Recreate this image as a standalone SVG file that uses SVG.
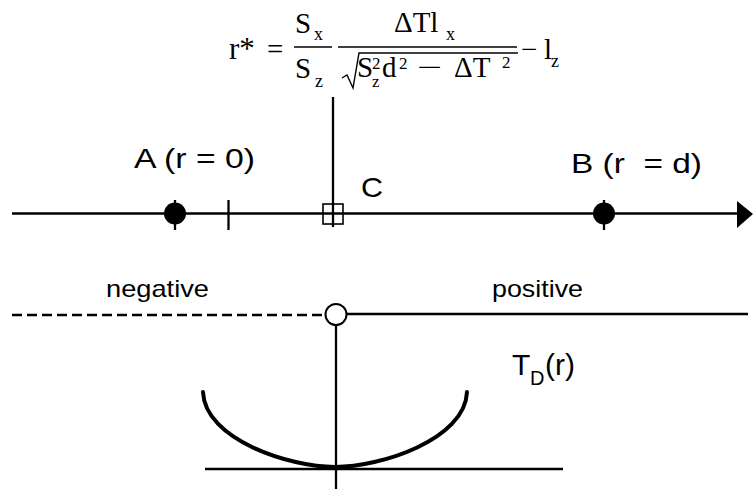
<svg xmlns="http://www.w3.org/2000/svg" width="753" height="489" viewBox="0 0 753 489">
<style>
.ln{stroke:#000;stroke-width:2.3;fill:none}
.thin{stroke:#000;stroke-width:1.4;fill:none}
.sans{font-family:"Liberation Sans",Arial,sans-serif;fill:#000}
.serif{font-family:"Liberation Serif","Times New Roman",serif;fill:#000}
.m{font-size:29px}
.s{font-size:18px}
.pre{white-space:pre}
</style>
<rect width="753" height="489" fill="#fff"/>
<g id="formula" class="serif">
<text x="229" y="59" font-size="31">r*</text>
<text x="267" y="59" class="m">=</text>
<line class="thin" x1="294" y1="47" x2="332" y2="47"/>
<text x="295" y="33" class="m">S</text>
<text x="314" y="40" class="s">x</text>
<text x="295" y="78" class="m">S</text>
<text x="315" y="87" class="s">z</text>
<line class="thin" x1="338" y1="47" x2="517" y2="47"/>
<text x="394" y="32" class="m">ΔTl</text>
<text x="446" y="40" class="s">x</text>
<path class="thin" d="M342,78 L347,75 L353,88 L359,53 L518,53"/>
<text x="357" y="77" class="m">S</text>
<text x="372" y="69" font-size="17">2</text>
<text x="372" y="87" font-size="17">z</text>
<text x="382" y="77" class="m">d</text>
<text x="399" y="69" font-size="17">2</text>
<text x="417" y="77" class="m" textLength="25" lengthAdjust="spacingAndGlyphs">−</text>
<text x="454" y="77" class="m">ΔT</text>
<text x="502" y="68" font-size="17">2</text>
<text x="521" y="59" class="m">−</text>
<text x="544" y="59" class="m">l</text>
<text x="551" y="67" class="s">z</text>
</g>
<g id="connectors">
<line class="ln" x1="12" y1="213.5" x2="740" y2="213.5"/>
<polygon points="737,201 753,214 737,228" fill="#000"/>
<line class="ln" x1="333" y1="97" x2="333" y2="227"/>
<line class="ln" x1="228.5" y1="200" x2="228.5" y2="230"/>
<line class="ln" x1="12" y1="315" x2="324" y2="315" stroke-dasharray="10,5"/>
<line class="ln" x1="347" y1="314" x2="748" y2="314"/>
<line class="ln" x1="336" y1="326" x2="336" y2="489"/>
<line class="ln" x1="205" y1="469" x2="563" y2="469"/>
</g>
<g id="node-A">
<circle cx="175" cy="213.5" r="11" fill="#000"/>
<line class="ln" x1="175" y1="200" x2="175" y2="230"/>
<text class="sans pre" x="134" y="168" font-size="28" textLength="121" lengthAdjust="spacingAndGlyphs">A (r = 0)</text>
</g>
<g id="node-B">
<circle cx="604" cy="213.5" r="11" fill="#000"/>
<line class="ln" x1="604" y1="200" x2="604" y2="230"/>
<text class="sans pre" x="571" y="173" font-size="28" textLength="131" lengthAdjust="spacingAndGlyphs">B (r  = d)</text>
</g>
<g id="node-C">
<rect x="323" y="204" width="20" height="20" fill="none" stroke="#000" stroke-width="1.6"/>
<text class="sans" x="361" y="197" font-size="28" textLength="22" lengthAdjust="spacingAndGlyphs">C</text>
</g>
<g id="node-origin">
<circle cx="336" cy="314.5" r="10.5" fill="#fff" stroke="#000" stroke-width="2"/>
</g>
<g id="labels">
<text class="sans" x="106" y="297" font-size="24" textLength="103" lengthAdjust="spacingAndGlyphs">negative</text>
<text class="sans" x="492" y="297" font-size="24" textLength="91" lengthAdjust="spacingAndGlyphs">positive</text>
<text class="sans" x="512" y="375" font-size="30">T</text>
<text class="sans" x="530" y="385" font-size="20">D</text>
<text class="sans" x="545" y="375" font-size="30">(r)</text>
</g>
<g id="curve">
<path d="M203,392 C205,440 290,467 335,467 C380,467 465,440 467,392" stroke="#000" stroke-width="4" fill="none" stroke-linecap="round"/>
</g>
</svg>
